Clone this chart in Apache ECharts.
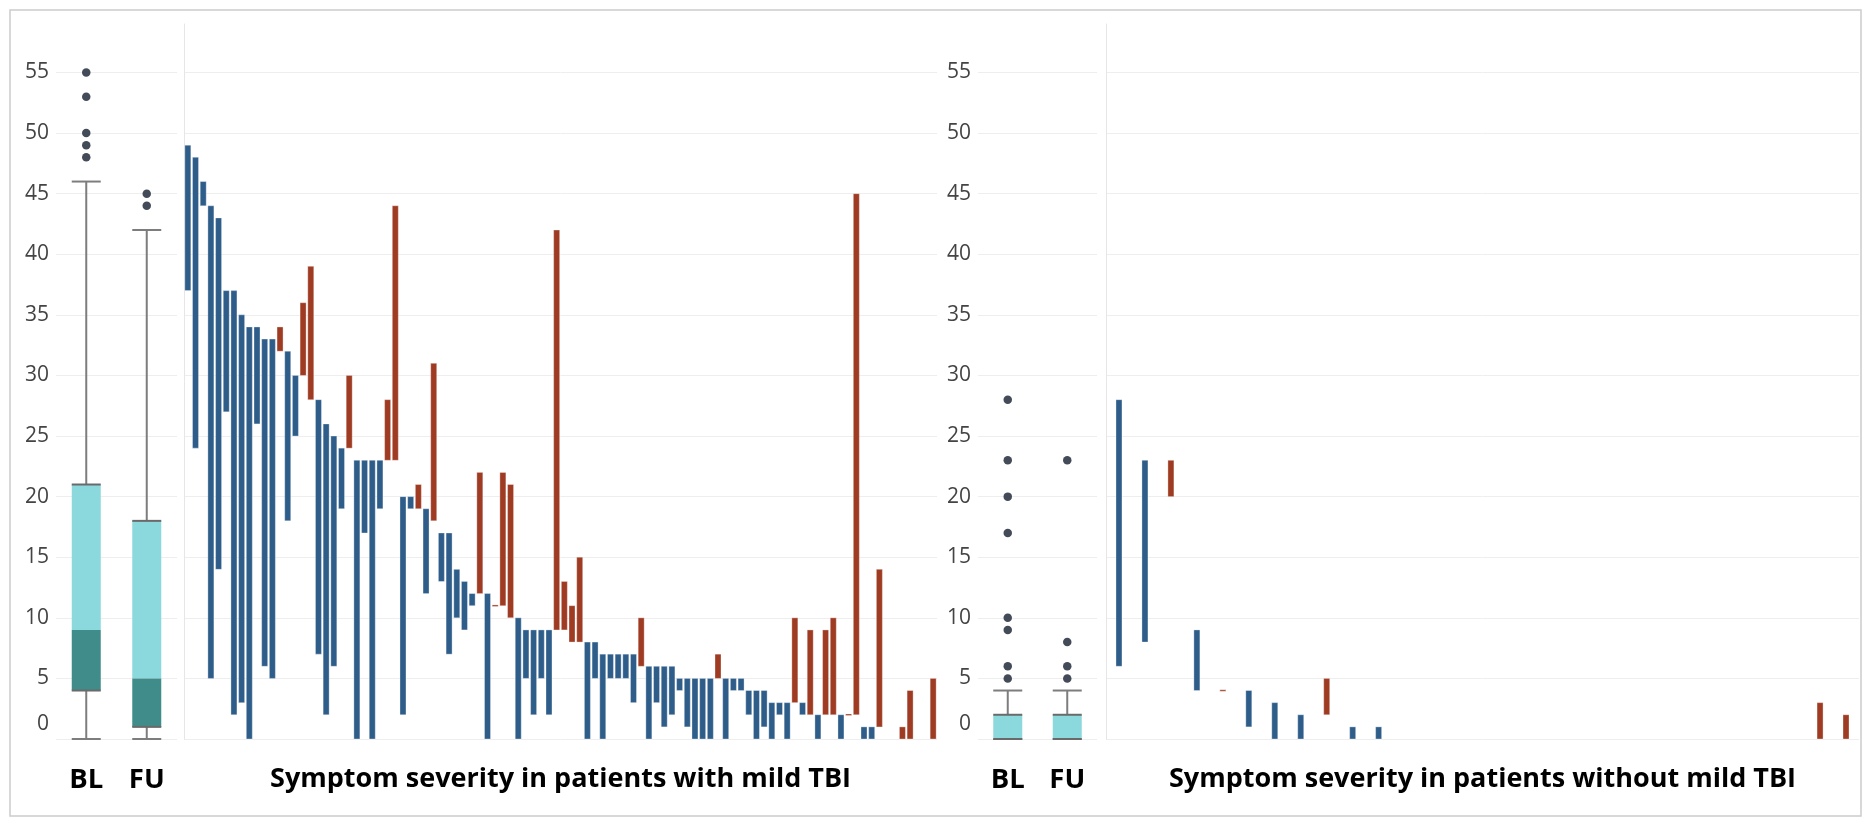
<!DOCTYPE html>
<html>
<head>
<meta charset="utf-8">
<script src="https://cdn.jsdelivr.net/npm/echarts@6/dist/echarts.min.js"></script>
<style>
  html, body { margin: 0; padding: 0; background: #ffffff; }
  #chart { width: 1872px; height: 820px; }
</style>
</head>
<body>
<div id="chart"></div>
<script>
// ---------- DATA ----------
// Patients with mild TBI: baseline (BL) and follow-up (FU) symptom scores
const leftBL = [49,48,46,44,43,37,37,35,34,34,33,33,32,32,30,30,28,28,26,25,24,24,23,23,23,23,23,23,20,20,
                19,19,18,17,17,14,13,12,12,12,11,11,10,10,9,9,9,9,9,9,8,8,8,8,7,7,7,7,7,6,
                6,6,6,6,5,5,5,5,5,5,5,5,5,4,4,4,3,3,3,3,3,2,2,2,2,2,2,2,1,1,
                1,0,0,0,0,0,0,0];
const leftFU = [37,24,44,5,14,27,2,3,0,26,6,5,34,18,25,36,39,7,2,6,19,30,0,17,0,19,28,44,2,19,
                21,12,31,13,7,10,9,11,22,0,11,22,21,0,5,2,5,2,42,13,11,15,0,5,0,5,5,5,3,10,
                0,3,1,2,4,1,0,0,0,7,0,4,4,2,0,1,0,2,0,10,2,9,0,9,10,0,2,45,0,0,
                14,0,0,1,4,0,0,5];
// Patients without mild TBI
const rightBL = [28,23,20,9,4,4,3,2,2,1,1,0,0,0,0,0,0,0,0,0,0,0,0,0,0,0,0,0,0];
const rightFU = [6,8,23,4,4,1,0,0,5,0,0,0,0,0,0,0,0,0,0,0,0,0,0,0,0,0,0,3,2];

// Box plots: [lower whisker, Q1, median, Q3, upper whisker]
const boxCategories = ['BL', 'FU'];
const leftBoxBL = [0, 4, 9, 21, 46];
const leftBoxFU = [0, 1, 5, 18, 42];
const rightBoxBL = [0, 0, 0, 2, 4];
const rightBoxFU = [0, 0, 0, 2, 4];
// Outliers
const leftOutBL = [55, 53, 50, 49, 48];
const leftOutFU = [45, 44];
const rightOutBL = [28, 23, 20, 17, 10, 9, 6, 5];
const rightOutFU = [23, 8, 6, 5];

// Axis
const yTicks = [0, 5, 10, 15, 20, 25, 30, 35, 40, 45, 50, 55];
const leftTitle = 'Symptom severity in patients with mild TBI';
const rightTitle = 'Symptom severity in patients without mild TBI';

// ---------- STYLE ----------
const FONT = 'Open Sans';
const BLUE = '#2e5d8a';
const RED = '#9e3b22';
const BOX_LIGHT = '#8bd9dc';
const BOX_DARK = '#408c8a';
const DOT = '#444b58';
const GRID_TOP = 24, GRID_H = 715;

const ids = arr => arr.map((_, i) => 'P' + (i + 1));
const pairs = (bl, fu) => bl.map((v, i) => [i, v, fu[i]]);
const boxRow = (i, b) => [i].concat(b);
const outPts = (i, arr) => arr.map(v => [i, v]);

function yAxis(gridIndex, showLabels, showLine) {
  return {
    type: 'value', gridIndex, min: 0, max: 59, interval: 5,
    axisLine: { show: showLine, lineStyle: { color: '#e6e6e6', width: 1 } },
    axisTick: { show: false },
    splitLine: { show: true, showMaxLine: false, lineStyle: { color: '#eeeeee', width: 1 } },
    axisLabel: {
      show: showLabels, margin: 7, showMaxLabel: false,
      color: '#444', fontFamily: FONT, fontSize: 21,
      formatter: v => yTicks.indexOf(v) < 0 ? '' : (v === 0 ? '{z|0}' : String(v)),
      rich: { z: { fontFamily: FONT, fontSize: 21, color: '#444', padding: [0, 0, 30, 0] } }
    }
  };
}

function boxXAxis(gridIndex) {
  return {
    type: 'category', gridIndex, data: boxCategories,
    axisLine: { show: false }, axisTick: { show: false },
    axisLabel: { margin: 27, color: '#000', fontFamily: FONT, fontWeight: 'bold', fontSize: 27.5 }
  };
}

function barXAxis(gridIndex, data, name) {
  return {
    type: 'category', gridIndex, data,
    axisLine: { show: false }, axisTick: { show: false }, axisLabel: { show: false },
    name, nameLocation: 'middle', nameGap: 27,
    nameTextStyle: { color: '#000', fontFamily: FONT, fontWeight: 'bold', fontSize: 27 }
  };
}

function renderRange(params, api) {
  const x = api.value(0), bl = api.value(1), fu = api.value(2);
  if (bl === 0 && fu === 0) return null;
  const top = api.coord([x, Math.max(bl, fu)]);
  const bot = api.coord([x, Math.min(bl, fu)]);
  const w = 6;
  let y = top[1], h = bot[1] - top[1];
  if (h < 1.5) { h = 1.5; y -= 0.75; }
  return {
    type: 'rect',
    shape: { x: top[0] - w / 2, y, width: w, height: h },
    style: { fill: fu >= bl ? RED : BLUE, stroke: 'rgba(255,255,255,0.55)', lineWidth: 0.6 }
  };
}

function renderBox(params, api) {
  const c = api.value(0);
  const wl = api.value(1), q1 = api.value(2), med = api.value(3), q3 = api.value(4), wh = api.value(5);
  const px = api.coord([c, 0])[0];
  const Y = v => api.coord([c, v])[1];
  const hw = 14.5;
  const whisk = { stroke: '#7d7d7d', lineWidth: 2 };
  const edge = { stroke: '#6a6a6a', lineWidth: 2 };
  return {
    type: 'group',
    children: [
      { type: 'line', shape: { x1: px, y1: Y(q3), x2: px, y2: Y(wh) }, style: whisk },
      { type: 'line', shape: { x1: px - hw, y1: Y(wh), x2: px + hw, y2: Y(wh) }, style: whisk },
      { type: 'line', shape: { x1: px, y1: Y(wl), x2: px, y2: Y(q1) }, style: whisk },
      { type: 'line', shape: { x1: px - hw, y1: Y(wl), x2: px + hw, y2: Y(wl) }, style: whisk },
      { type: 'rect', shape: { x: px - hw, y: Y(q3), width: 2 * hw, height: Y(med) - Y(q3) }, style: { fill: BOX_LIGHT } },
      { type: 'rect', shape: { x: px - hw, y: Y(med), width: 2 * hw, height: Y(q1) - Y(med) }, style: { fill: BOX_DARK } },
      { type: 'line', shape: { x1: px - hw, y1: Y(q3), x2: px + hw, y2: Y(q3) }, style: edge },
      { type: 'line', shape: { x1: px - hw, y1: Y(q1), x2: px + hw, y2: Y(q1) }, style: edge }
    ]
  };
}

const option = {
  animation: false,
  backgroundColor: '#ffffff',
  graphic: [{
    type: 'rect', silent: true, z: -10,
    shape: { x: 10, y: 10, width: 1851, height: 806 },
    style: { fill: 'none', stroke: '#cccccc', lineWidth: 1.5 }
  }],
  grid: [
    { left: 56, top: GRID_TOP, width: 121, height: GRID_H },
    { left: 184, top: GRID_TOP, width: 753, height: GRID_H },
    { left: 978, top: GRID_TOP, width: 119, height: GRID_H },
    { left: 1106, top: GRID_TOP, width: 753, height: GRID_H }
  ],
  xAxis: [
    boxXAxis(0),
    barXAxis(1, ids(leftBL), leftTitle),
    boxXAxis(2),
    barXAxis(3, ids(rightBL), rightTitle)
  ],
  yAxis: [
    yAxis(0, true, false),
    yAxis(1, false, true),
    yAxis(2, true, false),
    yAxis(3, false, true)
  ],
  series: [
    { type: 'custom', xAxisIndex: 0, yAxisIndex: 0, renderItem: renderBox,
      data: [boxRow(0, leftBoxBL), boxRow(1, leftBoxFU)] },
    { type: 'scatter', xAxisIndex: 0, yAxisIndex: 0, symbolSize: 8.5, itemStyle: { color: DOT, opacity: 1 },
      data: outPts(0, leftOutBL).concat(outPts(1, leftOutFU)) },
    { type: 'custom', xAxisIndex: 1, yAxisIndex: 1, renderItem: renderRange,
      data: pairs(leftBL, leftFU) },
    { type: 'custom', xAxisIndex: 2, yAxisIndex: 2, renderItem: renderBox,
      data: [boxRow(0, rightBoxBL), boxRow(1, rightBoxFU)] },
    { type: 'scatter', xAxisIndex: 2, yAxisIndex: 2, symbolSize: 8.5, itemStyle: { color: DOT, opacity: 1 },
      data: outPts(0, rightOutBL).concat(outPts(1, rightOutFU)) },
    { type: 'custom', xAxisIndex: 3, yAxisIndex: 3, renderItem: renderRange,
      data: pairs(rightBL, rightFU) }
  ]
};

const chart = echarts.init(document.getElementById('chart'), null, { renderer: 'canvas' });
chart.setOption(option);
</script>
</body>
</html>
